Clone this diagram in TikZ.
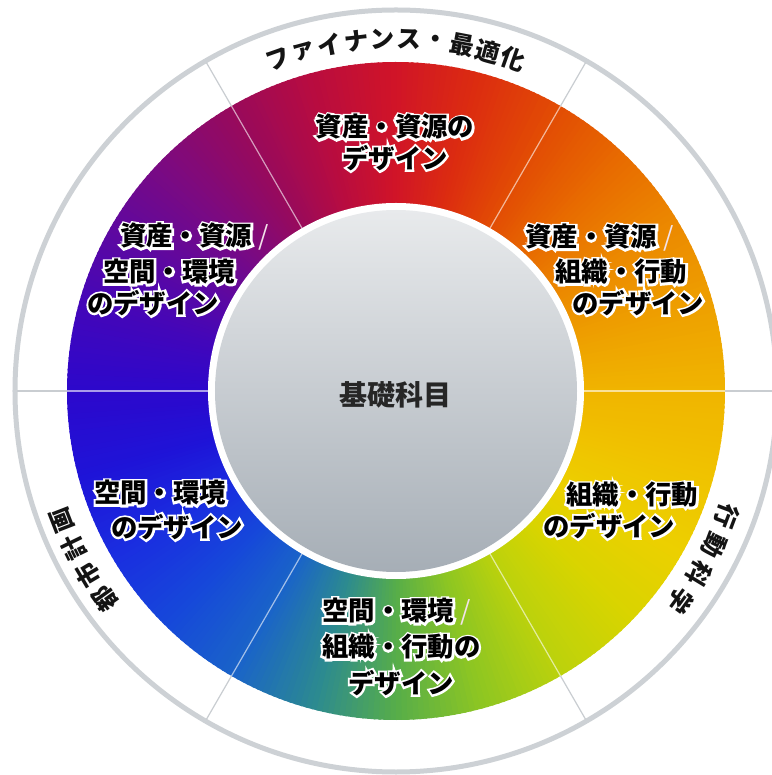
\documentclass[tikz,border=0pt]{standalone}
\usepackage{fontspec}
\newfontfamily\jpfont{Noto Sans CJK JP}
\newfontfamily\jphalo{Noto Sans CJK JP}[BoldFeatures={FakeBold=16}]
\usepackage{tikz}
\usetikzlibrary{positioning}

% wheel colours, every 15 degrees
\definecolor{wc0}{HTML}{F0B400}
\definecolor{wc15}{HTML}{EEA000}
\definecolor{wc30}{HTML}{EC8A00}
\definecolor{wc45}{HTML}{E86C00}
\definecolor{wc60}{HTML}{E24C04}
\definecolor{wc75}{HTML}{DC2C10}
\definecolor{wc90}{HTML}{D01428}
\definecolor{wc105}{HTML}{B80C40}
\definecolor{wc120}{HTML}{980A5C}
\definecolor{wc135}{HTML}{7C0A80}
\definecolor{wc150}{HTML}{5E08A0}
\definecolor{wc165}{HTML}{4206BA}
\definecolor{wc180}{HTML}{2C08CC}
\definecolor{wc195}{HTML}{1E14D8}
\definecolor{wc210}{HTML}{1A2EE0}
\definecolor{wc225}{HTML}{1648DA}
\definecolor{wc240}{HTML}{1A64C8}
\definecolor{wc255}{HTML}{2C8A90}
\definecolor{wc270}{HTML}{58AE48}
\definecolor{wc285}{HTML}{8EC622}
\definecolor{wc300}{HTML}{BCD20C}
\definecolor{wc315}{HTML}{D8D400}
\definecolor{wc330}{HTML}{ECD000}
\definecolor{wc345}{HTML}{F0C200}
\definecolor{wc360}{HTML}{F0B400}
\definecolor{ringgray}{HTML}{CDD1D5}
\definecolor{bandline}{HTML}{C9CDD1}
\definecolor{disktop}{HTML}{E8EAEC}
\definecolor{diskbottom}{HTML}{A6AEB6}
\definecolor{slashcol}{HTML}{F2E2EA}

% white halo behind the sector texts (one stroked copy)
\newcommand\glow[1]{\makebox[0pt][l]{\jphalo\bfseries\color{white}#1}#1}
\newcommand\slashmark{\hspace{6pt}{\mdseries\color{slashcol}/}}

\tikzset{
	sectorlabel/.style={
		font=\jpfont\bfseries\fontsize{26.4}{33}\selectfont,
		text=black,
		inner sep=0pt,
		anchor=west
	},
	ringlabel/.style={
		font=\jpfont\bfseries\fontsize{24.5}{24.5}\selectfont,
		text=black!92,
		inner sep=0pt
	},
	divider/.style={white, opacity=0.6, line width=1.2pt},
	banddivider/.style={bandline, line width=1.2pt}
}

\begin{document}
\begin{tikzpicture}

\useasboundingbox (-396pt,-384pt) rectangle (375pt,391pt);
\fill[white] (-396pt,-384pt) rectangle (375pt,391pt);

% colour wheel
\foreach \a in {0,...,359}{
	\pgfmathtruncatemacro\lo{15*floor(\a/15)}
	\pgfmathtruncatemacro\hi{\lo+15}
	\pgfmathtruncatemacro\pct{100-(\a-\lo)*100/15}
	\fill[wc\lo!\pct!wc\hi] (0,0) -- (\a:329pt)
		arc[start angle=\a, end angle=\a+1.4, radius=329pt] -- cycle;
}

\draw[ringgray, line width=5pt] (0,0) circle[radius=381pt];

\foreach \a in {0,60,...,300}{
	\draw[divider] (\a:187pt) -- (\a:329pt);
	\draw[banddivider] (\a:329pt) -- (\a:379pt);
}

% core
\fill[white] (0,0) circle[radius=188pt];
\shade[top color=disktop, bottom color=diskbottom] (0,0) circle[radius=181pt];

\node[
	font=\jpfont\bfseries\fontsize{28}{28}\selectfont,
	text=black!85
] (core) at (-1pt,-4pt) {基礎科目};

% ---

\node[sectorlabel, anchor=center] (top1) at (-1pt,264pt) {\glow{資産・資源の}};
\node[sectorlabel, anchor=center] (top2) at (-1pt,233pt) {\glow{デザイン}};

\node[sectorlabel] (ur1) at (129pt,153pt) {\glow{資産・資源}\slashmark};
\node[sectorlabel] (ur2) at (159pt,119pt) {\glow{組織・行動}};
\node[sectorlabel] (ur3) at (176pt,88pt) {\glow{のデザイン}};

\node[sectorlabel] (ul1) at (-276pt,154pt) {\glow{資産・資源}\slashmark};
\node[sectorlabel] (ul2) at (-293pt,119pt) {\glow{空間・環境}};
\node[sectorlabel] (ul3) at (-309pt,88pt) {\glow{のデザイン}};

\node[sectorlabel] (lr1) at (170pt,-104pt) {\glow{組織・行動}};
\node[sectorlabel] (lr2) at (147pt,-135pt) {\glow{のデザイン}};

\node[sectorlabel] (ll1) at (-302pt,-102pt) {\glow{空間・環境}};
\node[sectorlabel] (ll2) at (-285pt,-136pt) {\glow{のデザイン}};

\node[sectorlabel] (bt1) at (-74pt,-221pt) {\glow{空間・環境}\slashmark};
\node[sectorlabel] (bt2) at (-74pt,-256pt) {\glow{組織・行動の}};
\node[sectorlabel] (bt3) at (-48pt,-292pt) {\glow{デザイン}};

% ---

\foreach \ch [count=\i from 0] in {フ,ァ,イ,ナ,ン,ス,・,最,適,化}{
	\pgfmathsetmacro\ang{90+(4.5-\i)*4.33}
	\node[ringlabel, rotate=\ang-90] (fin\i) at (\ang:352pt) {\ch};
}

\foreach \ch [count=\i from 0] in {行,動,科,学}{
	\pgfmathsetmacro\ang{-28.5+(1.5-\i)*5.2}
	\node[ringlabel, rotate=\ang-90] (beh\i) at (\ang:354pt) {\ch};
}

\foreach \ch [count=\i from 0] in {都,市,計,画}{
	\pgfmathsetmacro\ang{208.4+(1.5-\i)*4.8}
	\node[ringlabel, rotate=\ang-90] (urb\i) at (\ang:358pt) {\ch};
}

\end{tikzpicture}
\end{document}
